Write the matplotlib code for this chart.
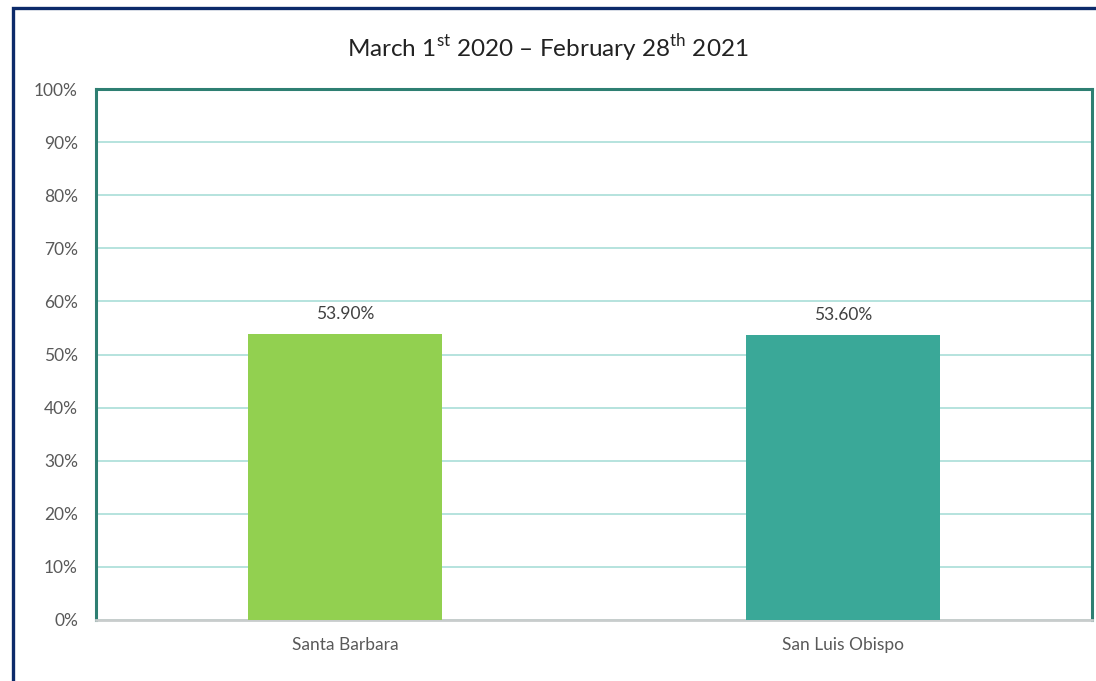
import matplotlib
matplotlib.use('Agg')
import matplotlib.pyplot as plt
from matplotlib.patches import Rectangle
from matplotlib.ticker import PercentFormatter

counties = ['Santa Barbara', 'San Luis Obispo']
rates = [53.9, 53.6]
bar_colors = ['#92d050', '#3aa898']

plt.rcParams['font.family'] = ['Lato', 'DejaVu Sans']
plt.rcParams['mathtext.fontset'] = 'custom'
plt.rcParams['mathtext.rm'] = 'Lato'

fig = plt.figure(figsize=(10.96, 6.81), dpi=100)
ax = fig.add_axes([96/1096, 1 - 620/681, 996/1096, 531/681])

x = range(len(counties))
bars = ax.bar(x, rates, width=0.39, color=bar_colors, zorder=3)
for b, v in zip(bars, rates):
    ax.text(b.get_x() + b.get_width() / 2, v + 2.3, f'{v:.2f}%',
            ha='center', va='bottom', fontsize=12.5, color='#404040')

ax.set_xlim(-0.5, 1.5)
ax.set_ylim(0, 100)
ax.set_yticks(range(0, 101, 10))
ax.yaxis.set_major_formatter(PercentFormatter(decimals=0))
ax.set_xticks(list(x))
ax.set_xticklabels(counties)
ax.tick_params(axis='both', length=0, labelsize=12.5, labelcolor='#595959')
ax.tick_params(axis='y', pad=13)
ax.tick_params(axis='x', pad=12)
ax.grid(axis='y', color='#a9ded8', linewidth=1.2, zorder=0)

for side in ['left', 'top', 'right']:
    ax.spines[side].set_color('#2e7f72')
    ax.spines[side].set_linewidth(2.2)
ax.spines['bottom'].set_color('#c8cccc')
ax.spines['bottom'].set_linewidth(2.0)

fig.text(0.5, 1 - 48/681, r'March 1$^{\mathrm{st}}$ 2020 – February 28$^{\mathrm{th}}$ 2021',
         ha='center', va='center', fontsize=17.5, color='#222222')

# outer frame running off the right and bottom edges
fig.patches.append(Rectangle((13/1096, -0.1), 1.2, 1 - 8/681 + 0.1,
                             transform=fig.transFigure, fill=False,
                             edgecolor='#0c2a6a', linewidth=2.4))

fig.savefig('out.png', dpi=100)
